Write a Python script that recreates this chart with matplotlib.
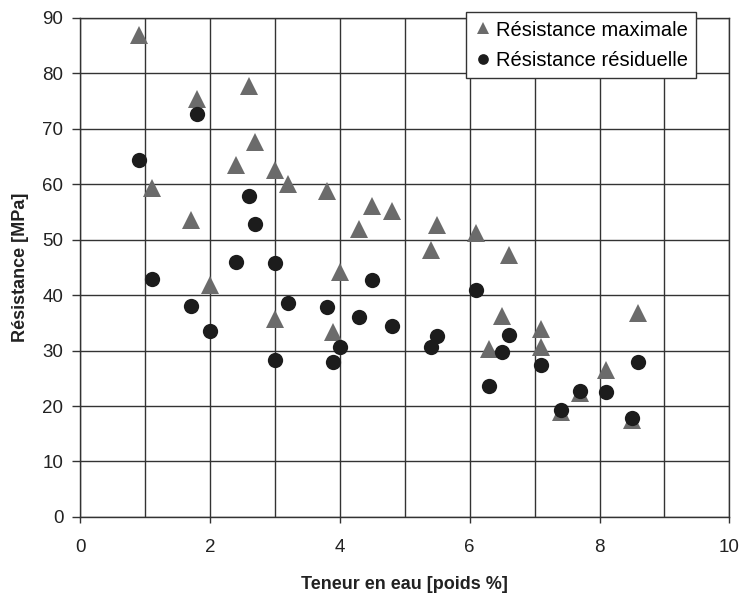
import numpy as np
import matplotlib
matplotlib.use('Agg')
import matplotlib.pyplot as plt
from matplotlib.ticker import MultipleLocator

plt.rcParams['font.family'] = ['Liberation Sans', 'DejaVu Sans']

# Resistance maximale (triangles)
x_max = [0.9, 1.1, 1.8, 1.7, 2.0, 2.4, 2.6, 2.7, 3.0, 3.0, 3.2, 3.8, 3.9, 4.0, 4.3,
         4.5, 4.8, 5.4, 5.5, 6.1, 6.3, 6.5, 6.6, 7.1, 7.1, 7.4, 7.7, 8.1, 8.5, 8.6]
y_max = [87.0, 59.3, 75.3, 53.6, 41.9, 63.5, 77.7, 67.7, 62.6, 35.7, 60.1, 58.7, 33.3, 44.1, 51.9,
         56.0, 55.1, 48.2, 52.7, 51.2, 30.3, 36.2, 47.2, 33.9, 30.6, 19.0, 22.4, 26.5, 17.4, 36.8]

# Resistance residuelle (cercles)
x_res = [0.9, 1.1, 1.7, 1.8, 2.0, 2.4, 2.6, 2.7, 3.0, 3.0, 3.2, 3.8, 3.9, 4.0, 4.3,
         4.5, 4.8, 5.4, 5.5, 6.1, 6.3, 6.5, 6.6, 7.1, 7.4, 7.7, 8.1, 8.5, 8.6]
y_res = [64.3, 43.0, 38.0, 72.6, 33.6, 46.0, 57.9, 52.8, 45.8, 28.3, 38.6, 37.8, 28.0, 30.7, 36.0,
         42.7, 34.5, 30.6, 32.7, 40.9, 23.7, 29.7, 32.8, 27.4, 19.3, 22.8, 22.6, 17.8, 28.0]

fig = plt.figure(figsize=(7.42, 5.99), dpi=100)
ax = fig.add_axes([0.108, 0.137, 0.875, 0.833])

ax.plot(x_max, y_max, '^', color='#6b6b6b', markersize=12.5, markeredgewidth=0,
        label='Résistance maximale', zorder=3)
ax.plot(x_res, y_res, 'o', color='#1c1c1c', markersize=11, markeredgewidth=0,
        label='Résistance résiduelle', zorder=4)

ax.set_xlim(0, 10)
ax.set_ylim(0, 90)
ax.xaxis.set_major_locator(MultipleLocator(2))
ax.xaxis.set_minor_locator(MultipleLocator(1))
ax.yaxis.set_major_locator(MultipleLocator(10))
ax.grid(True, which='both', axis='x', color='#333333', linewidth=1)
ax.grid(True, which='major', axis='y', color='#333333', linewidth=1)
ax.set_axisbelow(True)
ax.tick_params(axis='both', which='major', labelsize=13.5, color='#333333',
               length=6, width=1, direction='out', labelcolor='#222222')
ax.tick_params(axis='x', which='major', length=4, pad=12)
ax.tick_params(axis='x', which='minor', length=0)
ax.tick_params(axis='y', which='major', pad=6)
for s in ax.spines.values():
    s.set_color('#333333')
    s.set_linewidth(1)

ax.set_xlabel('Teneur en eau [poids %]', fontsize=13, fontweight='bold', color='#222222', labelpad=14)
ax.set_ylabel('Résistance [MPa]', fontsize=13, fontweight='bold', color='#222222', labelpad=10)

leg = ax.legend(loc='upper right', bbox_to_anchor=(0.948, 1.011), fontsize=14.5,
                fancybox=False, framealpha=1, edgecolor='#333333',
                handletextpad=0.15, handlelength=0.9, borderpad=0.4, labelspacing=0.55,
                markerscale=0.7, borderaxespad=0)
leg.get_frame().set_linewidth(1)

fig.savefig('out.png', dpi=100)
